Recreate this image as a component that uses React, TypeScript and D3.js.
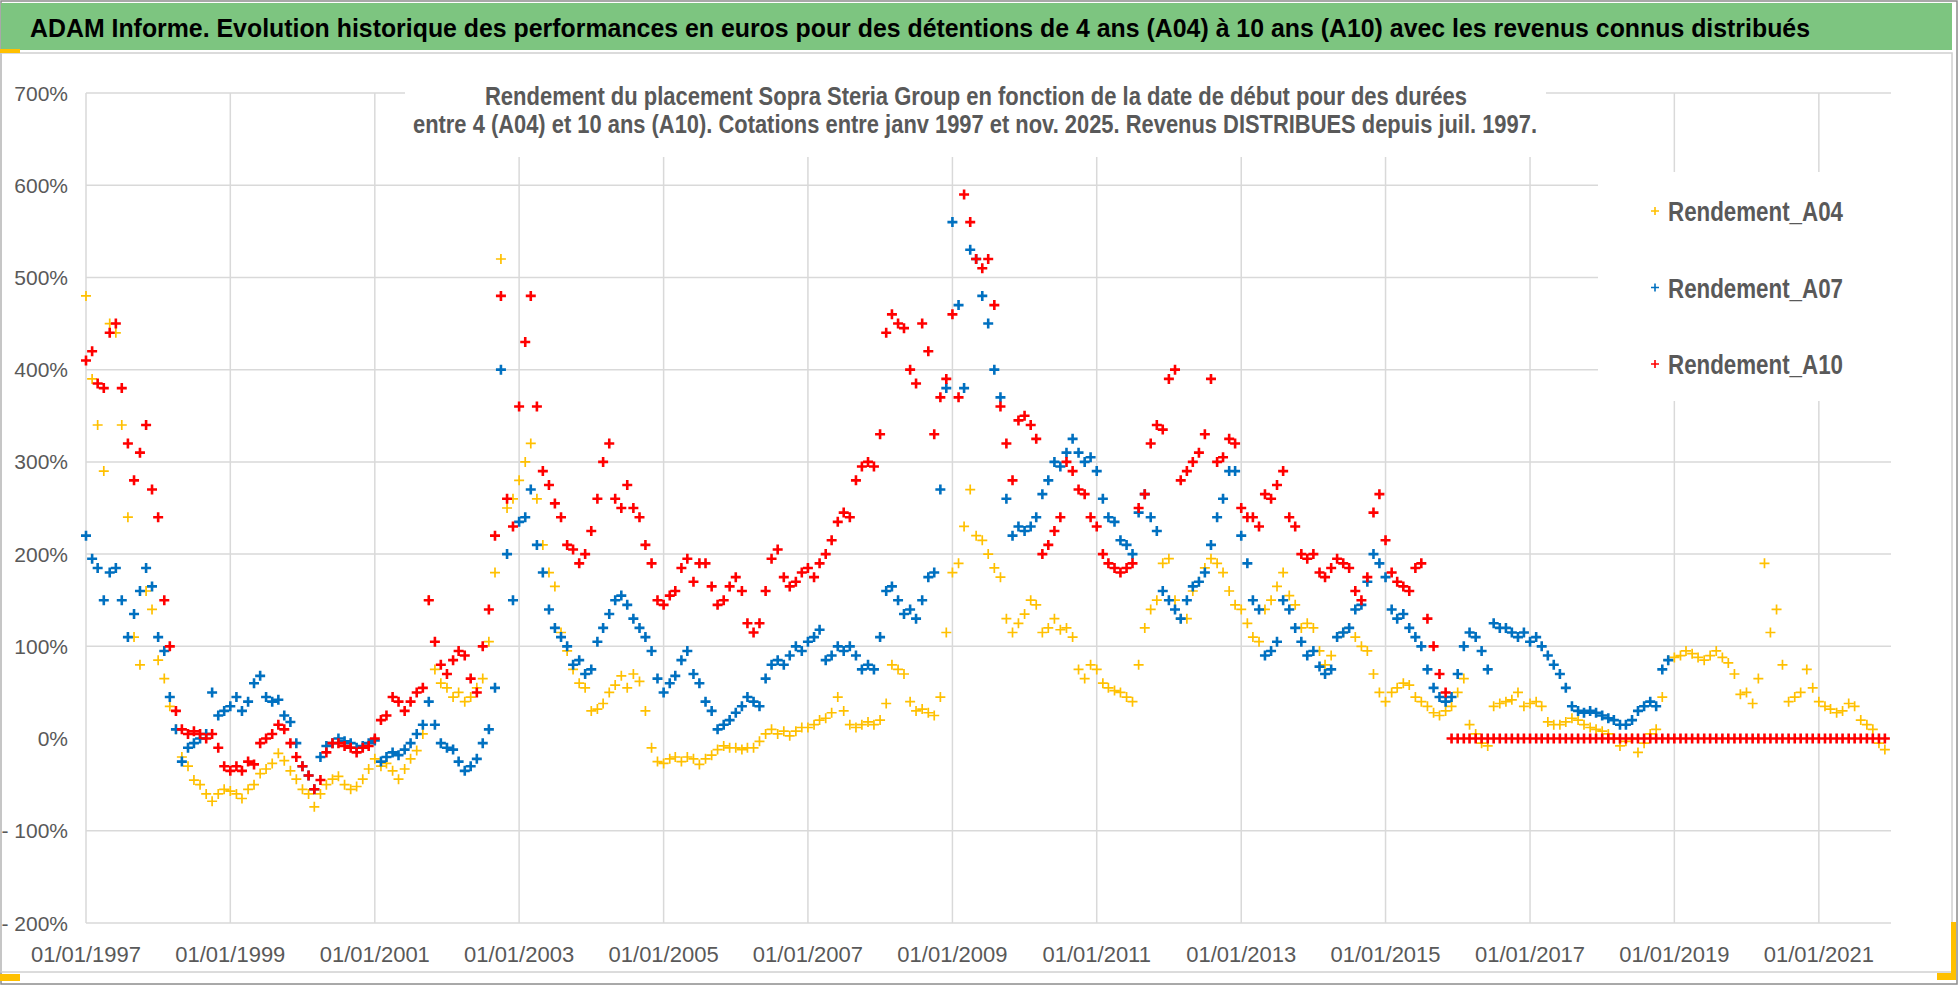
import * as d3 from 'd3'
import React from 'react'

// one value a month, starting janv. 1997 (rendement in %)
const startMonth = new Date(1997, 0, 1)

const a04 = [
  480, 390, 340, 290, 450, 440, 340, 240, 110, 80,
  160, 140, 85, 65, 35, 10, -20, -30, -45, -50,
  -60, -68, -60, -55, -57, -60, -65, -55, -50, -38,
  -33, -27, -16, -24, -35, -44, -55, -60, -74, -60,
  -50, -44, -41, -50, -55, -52, -44, -33, -22, -30,
  -27, -35, -44, -33, -22, -13, 5, 150, 75, 60,
  55, 45, 50, 40, 45, 55, 65, 105, 180, 520,
  250, 260, 280, 300, 320, 260, 210, 180, 165, 115,
  95, 75, 60, 55, 30, 32, 38, 50, 58, 68,
  55, 70, 62, 30, -10, -25, -27, -22, -20, -25,
  -20, -22, -28, -22, -18, -12, -8, -10, -10, -12,
  -10, -10, -3, 5, 10, 5, 8, 3, 8, 12,
  12, 15, 20, 22, 28, 45, 30, 15, 12, 15,
  18, 15, 20, 38, 80, 75, 70, 40, 30, 32,
  28, 25, 45, 115, 180, 190, 230, 270, 220, 215,
  200, 185, 175, 130, 115, 125, 135, 150, 145, 115,
  120, 130, 118, 120, 110, 75, 65, 80, 75, 60,
  55, 52, 50, 45, 40, 80, 120, 140, 150, 190,
  195, 150, 130, 130, 160, 170, 185, 195, 190, 180,
  160, 145, 140, 125, 110, 105, 140, 150, 165, 180,
  155, 145, 120, 125, 120, 95, 80, 90, 110, 115,
  120, 110, 100, 95, 70, 50, 40, 50, 55, 60,
  58, 45, 40, 35, 28, 25, 30, 35, 50, 65,
  15, 5, -5, -8, 35, 38, 40, 42, 50, 35,
  38, 40, 35, 18, 15, 15, 18, 22, 20, 15,
  12, 10, 8, 5, 0, -8, -3, 0, -15, -5,
  5, 10, 45, 85, 88, 90, 95, 92, 88, 85,
  90, 95, 88, 82, 70, 48, 50, 38, 65, 190,
  115, 140, 80, 40, 45, 50, 75, 55, 40, 35,
  32, 28, 30, 38, 35, 20, 15, 10, -5, -12,
]

const a07 = [
  220, 195, 185, 150, 180, 185, 150, 110, 135, 160,
  185, 165, 110, 95, 45, 10, -25, -10, -5, 0,
  5, 50, 25, 30, 35, 45, 30, 40, 60, 68,
  45, 40, 42, 25, 18, -5, -30, -40, -55, -20,
  -8, -5, 0, -3, -5, -10, -8, -5, -2, -25,
  -20, -15, -18, -12, -5, 5, 15, 40, 15, -5,
  -10, -12, -25, -35, -30, -22, -5, 10, 55, 400,
  200, 150, 235, 240, 270, 210, 180, 140, 120, 110,
  100, 80, 85, 70, 75, 105, 120, 135, 150, 155,
  145, 130, 120, 110, 95, 65, 50, 60, 68, 85,
  95, 70, 60, 40, 30, 10, 15, 20, 28, 35,
  45, 40, 35, 65, 80, 85, 80, 90, 100, 95,
  105, 110, 118, 85, 90, 100, 95, 100, 90, 75,
  80, 75, 110, 160, 165, 150, 135, 140, 130, 150,
  175, 180, 270, 380, 560, 470, 380, 530, 520, 480,
  450, 400, 370, 260, 220, 230, 225, 230, 240, 265,
  280, 300, 295, 310, 325, 310, 300, 305, 290, 260,
  240, 235, 215, 210, 200, 245, 265, 240, 225, 160,
  150, 140, 130, 150, 165, 170, 180, 210, 240, 260,
  290, 290, 220, 190, 150, 140, 90, 95, 105, 150,
  140, 120, 105, 90, 95, 78, 70, 75, 110, 115,
  120, 140, 145, 170, 200, 190, 175, 140, 130, 135,
  120, 110, 100, 75, 55, 45, 40, 45, 70, 100,
  115, 110, 95, 75, 125, 120, 120, 115, 110, 115,
  105, 110, 100, 90, 80, 70, 55, 35, 30, 28,
  30, 28, 25, 22, 20, 15, 15, 20, 30, 35,
  40, 35, 75, 85,
]

const a10 = [
  410, 420, 385, 380, 440, 450, 380, 320, 280, 310,
  340, 270, 240, 150, 100, 30, 10, 5, 8, 5,
  0, 5, -10, -30, -35, -30, -35, -25, -28, -5,
  0, 5, 15, 10, -5, -20, -30, -40, -55, -45,
  -15, -5, -5, -8, -10, -15, -10, -8, 0, 20,
  25, 45, 40, 30, 40, 50, 55, 150, 105, 80,
  70, 85, 95, 90, 65, 50, 100, 140, 220, 480,
  260, 230, 360, 430, 480, 360, 290, 275, 255, 240,
  210, 205, 190, 200, 225, 260, 300, 320, 260, 250,
  275, 250, 240, 210, 190, 150, 145, 155, 160, 185,
  195, 170, 190, 190, 165, 145, 150, 165, 175, 160,
  125, 115, 125, 160, 195, 205, 175, 165, 170, 180,
  185, 175, 190, 200, 215, 235, 245, 240, 280, 295,
  300, 295, 330, 440, 460, 450, 445, 400, 385, 450,
  420, 330, 370, 390, 460, 370, 590, 560, 520, 510,
  520, 470, 360, 320, 280, 345, 350, 340, 325, 200,
  210, 225, 240, 300, 290, 270, 265, 240, 230, 200,
  190, 185, 180, 185, 190, 250, 265, 320, 340, 335,
  390, 400, 280, 290, 300, 310, 330, 390, 300, 305,
  325, 320, 250, 240, 240, 230, 265, 260, 275, 290,
  240, 230, 200, 195, 200, 180, 175, 185, 195, 190,
  185, 160, 150, 175, 245, 265, 215, 180, 170, 165,
  160, 185, 190, 130, 100, 70, 50, 0, 0, 0,
  0, 0, 0, 0, 0, 0, 0, 0, 0, 0,
  0, 0, 0, 0, 0, 0, 0, 0, 0, 0,
  0, 0, 0, 0, 0, 0, 0, 0, 0, 0,
  0, 0, 0, 0, 0, 0, 0, 0, 0, 0,
  0, 0, 0, 0, 0, 0, 0, 0, 0, 0,
  0, 0, 0, 0, 0, 0, 0, 0, 0, 0,
  0, 0, 0, 0, 0, 0, 0, 0, 0, 0,
]

const seriesNames = ['Rendement_A04', 'Rendement_A07', 'Rendement_A10']
const seriesColors = ['#FFC000', '#0070C0', '#FF0000']
const yTicks = [700, 600, 500, 400, 300, 200, 100, 0, -100, -200]
const yGridLines = [700, 600, 500, 400, 300, 200, 100, -100, -200]
const xTickYears = [1997, 1999, 2001, 2003, 2005, 2007, 2009, 2011, 2013, 2015, 2017, 2019, 2021]

const title = 'ADAM Informe. Evolution historique des performances en euros pour des détentions de 4 ans (A04) à 10 ans (A10) avec les revenus connus distribués'
const subtitle1 = 'Rendement du placement Sopra Steria Group en fonction de la date de début pour des durées'
const subtitle2 = 'entre 4 (A04) et 10 ans (A10).  Cotations entre janv 1997 et nov. 2025. Revenus DISTRIBUES depuis juil. 1997.'

const narrow = "'Liberation Sans Narrow', 'Arial Narrow', sans-serif"

const App = () => {
  const width = 1958
  const height = 985

  const x = d3.scaleTime()
    .domain([new Date(1997, 0, 1), new Date(2022, 0, 1)])
    .range([86, 1891])
  const y = d3.scaleLinear()
    .domain([-200, 700])
    .range([923, 93])

  const crosses = (vals, r) => vals.map((v, i) => {
    const px = x(d3.timeMonth.offset(startMonth, i))
    const py = y(v)
    return `M${px - r},${py}H${px + r}M${px},${py - r}V${py + r}`
  }).join('')

  const series = [a04, a07, a10]
  const strokes = [1.7, 2.6, 2.6]

  const fmtY = (v) => (v < 0 ? `- ${Math.abs(v)}%` : `${v}%`)

  return (
    <div style={{ position: 'absolute', left: 0, top: 0 }}>
      <svg width={width} height={height} style={{ display: 'block', background: '#fff' }}>
        {/* frame */}
        <rect x={1} y={1} width={1956} height={983} fill="#fff" stroke="#8c8c8c" strokeWidth={1.5} />
        <rect x={1} y={53} width={1951} height={919} fill="none" stroke="#d0d0d0" strokeWidth={1.5} />
        <rect x={1} y={3} width={1951} height={47} fill="#7dc580" />
        <text x={920} y={37} textAnchor="middle" fontFamily={narrow} fontWeight="bold" fontSize={26} fill="#000"
          textLength={1780} lengthAdjust="spacingAndGlyphs">{title}</text>

        {/* grid */}
        {yGridLines.map(v => (
          <line key={'h' + v} x1={86} x2={1891} y1={y(v)} y2={y(v)} stroke="#d9d9d9" strokeWidth={1.5} />
        ))}
        {xTickYears.map(yr => (
          <line key={'v' + yr} x1={x(new Date(yr, 0, 1))} x2={x(new Date(yr, 0, 1))} y1={y(700)} y2={y(-200)}
            stroke="#d9d9d9" strokeWidth={1.5} />
        ))}

        {/* boxes behind the inner title and the legend */}
        <rect x={405} y={62} width={1141} height={95} fill="#fff" />
        <rect x={1598} y={172} width={293} height={229} fill="#fff" />

        {/* axis labels */}
        {yTicks.map(v => (
          <text key={'yl' + v} x={68} y={y(v)} dy="0.36em" textAnchor="end" fontFamily={narrow}
            fontSize={21} fill="#595959">{fmtY(v)}</text>
        ))}
        {xTickYears.map(yr => (
          <text key={'xl' + yr} x={x(new Date(yr, 0, 1))} y={962} textAnchor="middle" fontFamily={narrow}
            fontSize={22} fill="#595959">{`01/01/${yr}`}</text>
        ))}

        {/* series */}
        {series.map((vals, i) => (
          <path key={seriesNames[i]} d={crosses(vals, 5)} fill="none" stroke={seriesColors[i]}
            strokeWidth={strokes[i]} />
        ))}

        {/* inner title */}
        <text x={976} y={105} textAnchor="middle" fontFamily={narrow} fontWeight="bold" fontSize={26}
          fill="#595959" textLength={982} lengthAdjust="spacingAndGlyphs">{subtitle1}</text>
        <text x={975} y={133} textAnchor="middle" fontFamily={narrow} fontWeight="bold" fontSize={26}
          fill="#595959" textLength={1124} lengthAdjust="spacingAndGlyphs">{subtitle2}</text>

        {/* legend */}
        {seriesNames.map((name, i) => {
          const cy = 211 + i * 76.5
          return (
            <g key={'lg' + name}>
              <path d={`M1651,${cy}H1659M1655,${cy - 4}V${cy + 4}`} stroke={seriesColors[i]} strokeWidth={1.6} />
              <text x={1668} y={cy + 10} fontFamily={narrow} fontWeight="bold" fontSize={27} fill="#595959"
                textLength={175} lengthAdjust="spacingAndGlyphs">{name}</text>
            </g>
          )
        })}

        {/* selection handles */}
        <rect x={0} y={49} width={20} height={4} fill="#FFC000" />
        <rect x={0} y={974} width={20} height={7} fill="#FFC000" />
        <rect x={1951} y={922} width={5} height={58} fill="#FFC000" />
        <rect x={1937} y={973} width={19} height={7} fill="#FFC000" />
      </svg>
    </div>
  )
}

export default App
